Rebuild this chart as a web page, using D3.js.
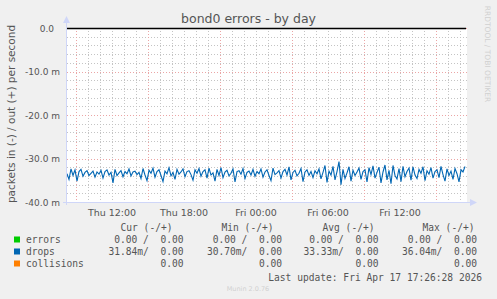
<!DOCTYPE html>
<html lang="en">
<head>
<meta charset="UTF-8">
<title>bond0 errors - by day</title>
<style>
  body, html { margin: 0; padding: 0; background: #f0f0f0; overflow: hidden; }
  svg { display: block; }
  text { font-family: "DejaVu Sans", sans-serif; fill: #555; }
  .mono { font-family: "DejaVu Sans Mono", monospace; }
</style>
</head>
<body>
<script src="https://d3js.org/d3.v7.min.js"></script>
<script>
// drops (in), milli-packets per second, one sample every 10 minutes
var dropsIn = [
  33.5, 34.8, 32.4, 33.9, 32.6, 35.2, 33.0, 32.5, 34.1, 33.2, 32.8, 33.9, 33.4, 32.9, 34.3, 33.1, 33.6, 32.7,
  34.5, 33.0, 32.6, 33.8, 33.2, 35.6, 32.5, 33.9, 33.3, 32.8, 34.2, 33.0, 33.5, 32.4, 34.0, 33.1, 32.9, 33.7,
  33.2, 34.6, 32.3, 33.8, 35.1, 32.7, 33.4, 32.2, 34.3, 33.0, 32.6, 33.9, 35.3, 32.9, 33.5, 32.1, 34.0, 33.2,
  34.8, 32.5, 33.6, 33.1, 32.4, 34.2, 33.0, 32.8, 33.7, 35.0, 32.6, 33.4,
  32.3, 34.1, 33.0, 32.6, 34.5, 32.2, 33.8, 33.3, 35.2, 32.5, 33.9, 32.1, 34.4, 33.1, 32.7, 34.0, 33.4, 32.4,
  35.4, 33.0, 32.8, 33.6, 32.3, 34.6, 33.2, 32.9, 33.8, 32.5, 34.1, 33.0,
  33.5, 32.4, 34.3, 33.1, 32.6, 33.9, 35.1, 32.2, 33.7, 33.3, 32.8, 34.5, 33.0, 32.5, 33.8, 31.9, 34.9, 33.2,
  32.7, 34.0, 33.4, 32.3, 35.3, 33.1, 32.6, 33.9, 33.0, 34.4, 32.8, 33.5,
  32.4, 34.7, 33.2, 31.6, 35.5, 32.9, 33.8, 31.8, 34.9, 33.0, 30.7, 36.04, 32.5, 34.6, 33.3, 31.9, 35.2, 32.7,
  33.9, 33.1, 32.2, 34.8, 33.0, 32.6, 35.4, 32.1, 33.7, 31.7, 34.5, 33.2,
  32.0, 35.6, 33.1, 31.5, 34.9, 32.7, 35.8, 31.6, 33.9, 34.7, 32.3, 35.3, 31.8, 34.2, 33.0, 32.2, 35.0, 31.9,
  33.8, 34.6, 32.5, 33.4, 31.9, 35.1, 32.8, 33.6, 32.1, 34.5, 33.0, 32.6,
  34.4, 31.8, 33.7, 35.2, 32.4, 33.9, 32.9, 34.8, 32.3, 33.5, 35.4, 32.6, 33.1, 31.84
];
var startTime = new Date(2026, 3, 16, 8, 15);
var stepMs = 600000;
var spanMs = 120000000;

var yMinor = d3.range(-40, 0.01, 2);
var yMajor = [0, -10, -20, -30, -40];

var seriesNames = ["errors", "drops", "collisions"];
var seriesColors = ["#00cc00", "#0066b3", "#ff8000"];
var headers = ["Cur (-/+)", "Min (-/+)", "Avg (-/+)", "Max (-/+)"];
var curCol = ["0.00 /  0.00", "31.84m/  0.00", "0.00"];
var minCol = ["0.00 /  0.00", "30.70m/  0.00", "0.00"];
var avgCol = ["0.00 /  0.00", "33.33m/  0.00", "0.00"];
var maxCol = ["0.00 /  0.00", "36.04m/  0.00", "0.00"];
var lastUpdate = "Last update: Fri Apr 17 17:26:28 2026";

var width = 497, height = 299;
var plotL = 67, plotR = 467, plotT = 28, plotB = 202;

var svg = d3.select("body").append("svg")
    .attr("width", width)
    .attr("height", height);

svg.append("rect").attr("width", width).attr("height", height).attr("fill", "#f0f0f0");
svg.append("rect").attr("x", plotL).attr("y", plotT)
    .attr("width", plotR - plotL).attr("height", plotB - plotT).attr("fill", "#fff");

var x = d3.scaleTime()
    .domain([startTime, new Date(+startTime + spanMs)])
    .range([plotL, plotR]);
var y = d3.scaleLinear().domain([-40, 0]).range([plotB, plotT]);

// grid
var hours = x.ticks(d3.timeHour.every(1));
var grid = svg.append("g");
grid.selectAll(".hmin").data(yMinor).enter().append("line")
    .attr("x1", plotL).attr("x2", plotR)
    .attr("y1", function(d) { return Math.round(y(d)) + 0.5; })
    .attr("y2", function(d) { return Math.round(y(d)) + 0.5; })
    .attr("stroke", "#c4c4c4").attr("stroke-dasharray", "1,2");
grid.selectAll(".vmin").data(hours).enter().append("line")
    .attr("x1", function(d) { return Math.round(x(d)) + 0.5; })
    .attr("x2", function(d) { return Math.round(x(d)) + 0.5; })
    .attr("y1", plotT).attr("y2", plotB)
    .attr("stroke", "#c4c4c4").attr("stroke-dasharray", "1,2");
grid.selectAll(".hmaj").data(yMajor).enter().append("line")
    .attr("x1", plotL).attr("x2", plotR + 2)
    .attr("y1", function(d) { return Math.round(y(d)) + 0.5; })
    .attr("y2", function(d) { return Math.round(y(d)) + 0.5; })
    .attr("stroke", "#eba5a5").attr("stroke-dasharray", "1,2");
grid.selectAll(".vmaj").data(hours.filter(function(d) { return d.getHours() % 6 === 3; }))
    .enter().append("line")
    .attr("x1", function(d) { return Math.round(x(d)) + 0.5; })
    .attr("x2", function(d) { return Math.round(x(d)) + 0.5; })
    .attr("y1", plotT).attr("y2", plotB + 3)
    .attr("stroke", "#eba5a5").attr("stroke-dasharray", "1,2");

// drops line
var line = d3.line()
    .x(function(d, i) { return x(new Date(+startTime + i * stepMs)); })
    .y(function(d) { return y(-d); });
svg.append("path").datum(dropsIn)
    .attr("d", line)
    .attr("fill", "none")
    .attr("stroke", seriesColors[1])
    .attr("stroke-width", 1.1);

// zero rule
svg.append("line")
    .attr("x1", plotL).attr("x2", plotR - 1)
    .attr("y1", y(0) + 0.5).attr("y2", y(0) + 0.5)
    .attr("stroke", "#000").attr("stroke-width", 1.3);

// axes lines and arrows
var axisCol = "#cfd6f8";
svg.append("line").attr("x1", plotL - 0.5).attr("x2", plotL - 0.5)
    .attr("y1", plotB + 3).attr("y2", plotT - 6).attr("stroke", axisCol);
svg.append("path").attr("d", "M" + (plotL - 4) + "," + (plotT - 5) + "L" + (plotL - 0.5) + "," + (plotT - 12) + "L" + (plotL + 3) + "," + (plotT - 5) + "Z")
    .attr("fill", axisCol);
svg.append("line").attr("x1", plotL - 4).attr("x2", plotR + 4)
    .attr("y1", plotB + 0.5).attr("y2", plotB + 0.5).attr("stroke", axisCol);
svg.append("path").attr("d", "M" + (plotR + 3) + "," + (plotB - 3) + "L" + (plotR + 10) + "," + (plotB + 0.5) + "L" + (plotR + 3) + "," + (plotB + 4) + "Z")
    .attr("fill", axisCol);

// y tick labels
svg.append("g").selectAll("text").data(yMajor).enter().append("text")
    .attr("x", function(d) { return d === 0 ? 54 : 60; })
    .attr("y", function(d) { return y(d) + 3.5; })
    .attr("text-anchor", "end")
    .style("font-size", "9px")
    .text(function(d) { return d === 0 ? "0.0" : d.toFixed(1) + " m"; });

// x tick labels
var fmt = d3.timeFormat("%a %H:%M");
svg.append("g").selectAll("text")
    .data(hours.filter(function(d) { return d.getHours() % 6 === 0; }))
    .enter().append("text")
    .attr("x", function(d) { return x(d); })
    .attr("y", 215.5)
    .attr("text-anchor", "middle")
    .style("font-size", "9.5px")
    .text(function(d) { return fmt(d); });

// title
svg.append("text").attr("x", 248.5).attr("y", 22.5)
    .attr("text-anchor", "middle").style("font-size", "12.5px")
    .text("bond0 errors - by day");

// vertical label
svg.append("text")
    .attr("transform", "translate(15,114) rotate(-90)")
    .attr("text-anchor", "middle").style("font-size", "10.5px")
    .text("packets in (-) / out (+) per second");

// watermark right
svg.append("text")
    .attr("transform", "translate(485,54) rotate(90)")
    .attr("text-anchor", "middle").style("font-size", "7.5px").style("fill", "#d0d0d0")
    .text("RRDTOOL / TOBI OETIKER");

// legend
var leg = svg.append("g").attr("class", "mono").style("font-size", "9.6px");
var headerX = [120.5, 221.5, 322.5, 422.5];
leg.selectAll(".hdr").data(headers).enter().append("text")
    .attr("class", "mono")
    .attr("x", function(d, i) { return headerX[i]; })
    .attr("y", 230.5)
    .attr("xml:space", "preserve")
    .text(function(d) { return d; });

var colRight = [183.5, 282, 378.5, 477];
var cols = [curCol, minCol, avgCol, maxCol];
seriesNames.forEach(function(name, r) {
    var rowY = 242.5 + r * 12;
    leg.append("rect").attr("x", 14).attr("y", rowY - 6)
        .attr("width", 6).attr("height", 6).attr("fill", seriesColors[r]);
    leg.append("text").attr("class", "mono").attr("x", 26).attr("y", rowY).text(name);
    cols.forEach(function(col, c) {
        leg.append("text").attr("class", "mono")
            .attr("x", colRight[c]).attr("y", rowY)
            .attr("text-anchor", "end")
            .attr("xml:space", "preserve")
            .text(col[r]);
    });
});
leg.append("text").attr("class", "mono")
    .attr("x", 482).attr("y", 280.5)
    .attr("text-anchor", "end")
    .text(lastUpdate);

svg.append("text").attr("x", 248).attr("y", 291)
    .attr("text-anchor", "middle").style("font-size", "6.5px").style("fill", "#d0d0d0")
    .text("Munin 2.0.76");
</script>
</body>
</html>
